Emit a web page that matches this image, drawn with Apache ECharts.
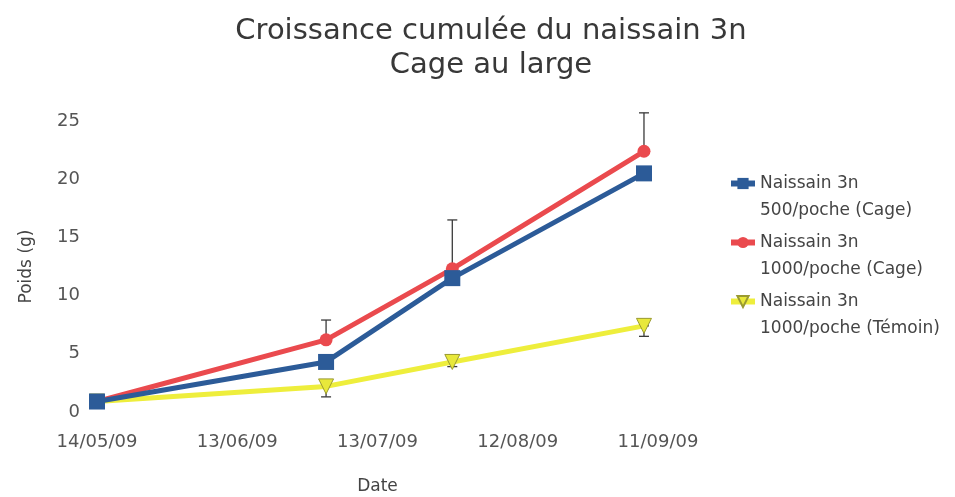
<!DOCTYPE html>
<html>
<head>
<meta charset="utf-8">
<script src="https://cdn.jsdelivr.net/npm/echarts@6/dist/echarts.min.js"></script>
<style>
html,body{margin:0;padding:0;background:#fff;}
#chart{width:955px;height:497px;}
</style>
</head>
<body>
<div id="chart"></div>
<script>
// dates of the samplings
var dates = ['2009-05-14', '2009-07-02', '2009-07-29', '2009-09-08'];
var tickLabels = ['14/05/09', '13/06/09', '13/07/09', '12/08/09', '11/09/09'];

var names = ['Naissain 3n\n500/poche (Cage)', 'Naissain 3n\n1000/poche (Cage)', 'Naissain 3n\n1000/poche (Témoin)'];
var cage500 = [0.9, 4.3, 11.5, 20.5];
var cage1000 = [0.9, 6.2, 12.3, 22.4];
var temoin1000 = [0.9, 2.2, 4.3, 7.4];

// error bars (plus / minus)
var cage500Plus = [0, 0, 0, 0];
var cage500Minus = [0, 0.3, 0.5, 0.5];
var cage1000Plus = [0, 1.7, 4.2, 3.3];
var cage1000Minus = [0, 0, 0, 0];
var temoinPlus = [0, 0, 0, 0];
var temoinMinus = [0, 0.9, 0.4, 0.9];

var colors = ['#2c5b98', '#ea4a4e', '#eeee3c'];

function dayOf(s){
	var t0 = Date.UTC(2009, 4, 14);
	var p = s.split('-');
	return Math.round((Date.UTC(+p[0], +p[1]-1, +p[2]) - t0) / 86400000);
}
function pairs(vals){
	var out = [];
	for(var i=0;i<vals.length;i++){
		out.push([dayOf(dates[i]), vals[i]]);
	}
	return out;
}
function errData(vals, plus, minus){
	var out = [];
	for(var i=0;i<vals.length;i++){
		if(plus[i]==0 && minus[i]==0) continue;
		out.push([dayOf(dates[i]), vals[i], vals[i]-minus[i], vals[i]+plus[i]]);
	}
	return out;
}
function errRender(params, api){
	var x = api.value(0);
	var lo = api.coord([x, api.value(2)]);
	var hi = api.coord([x, api.value(3)]);
	var w = 5;
	var st = {stroke:'#3a3a3a', lineWidth:1.3};
	return {
		type:'group',
		children:[
			{type:'line', shape:{x1:lo[0], y1:lo[1], x2:hi[0], y2:hi[1]}, style:st},
			{type:'line', shape:{x1:hi[0]-w, y1:hi[1], x2:hi[0]+w, y2:hi[1]}, style:st},
			{type:'line', shape:{x1:lo[0]-w, y1:lo[1], x2:lo[0]+w, y2:lo[1]}, style:st}
		]
	};
}

var myChart = echarts.init(document.getElementById('chart'));
var font = 'DejaVu Sans';
var option = {
	title:{
		text:'Croissance cumulée du naissain 3n\nCage au large',
		left:486,
		textAlign:'center',
		top:9,
		textStyle:{fontFamily:font, fontSize:29, fontWeight:'normal', color:'#383838', lineHeight:34}
	},
	color: colors,
	legend:{
		orient:'vertical',
		left:728,
		top:143,
		padding:0,
		itemWidth:24,
		itemHeight:14,
		itemGap:-22,
		data:names,
		lineStyle:{width:6},
		formatter:function(n){ return '\n'+n; },
		textStyle:{fontFamily:font, fontSize:17, color:'#444', lineHeight:27}
	},
	grid:{left:97, right:297, top:121, bottom:85, outerBoundsMode:'none'},
	xAxis:{
		type:'value',
		min:0,
		max:120,
		interval:30,
		name:'Date',
		nameLocation:'middle',
		nameGap:66,
		nameTextStyle:{fontFamily:font, fontSize:17, color:'#444'},
		axisLine:{show:false},
		axisTick:{show:false},
		splitLine:{show:false},
		axisLabel:{
			margin:21,
			fontFamily:font, fontSize:18, color:'#555',
			formatter:function(v){ return tickLabels[Math.round(v/30)] || ''; }
		}
	},
	yAxis:{
		type:'value',
		min:0,
		max:25,
		interval:5,
		name:'Poids (g)',
		nameLocation:'middle',
		nameGap:62,
		nameTextStyle:{fontFamily:font, fontSize:17, color:'#444'},
		axisLine:{show:false},
		axisTick:{show:false},
		splitLine:{show:false},
		axisLabel:{margin:17, fontFamily:font, fontSize:18, color:'#555'}
	},
	series:[
		{type:'custom', renderItem:errRender, data:errData(cage500, cage500Plus, cage500Minus), z:1, silent:true},
		{type:'custom', renderItem:errRender, data:errData(cage1000, cage1000Plus, cage1000Minus), z:1, silent:true},
		{type:'custom', renderItem:errRender, data:errData(temoin1000, temoinPlus, temoinMinus), z:1, silent:true},
		{
			name:names[0], type:'line', data:pairs(cage500), z:5,
			symbol:'rect', symbolSize:16,
			lineStyle:{width:5, color:colors[0]},
			itemStyle:{color:colors[0]}
		},
		{
			name:names[1], type:'line', data:pairs(cage1000), z:4,
			symbol:'circle', symbolSize:13,
			lineStyle:{width:5, color:colors[1]},
			itemStyle:{color:colors[1]}
		},
		{
			name:names[2], type:'line', data:pairs(temoin1000), z:3,
			symbol:'triangle', symbolRotate:180, symbolSize:15,
			lineStyle:{width:5, color:colors[2]},
			itemStyle:{color:'#e8e83a', borderColor:'#9a9a30', borderWidth:1}
		}
	],
	animation:false
};
myChart.setOption(option);
</script>
</body>
</html>
